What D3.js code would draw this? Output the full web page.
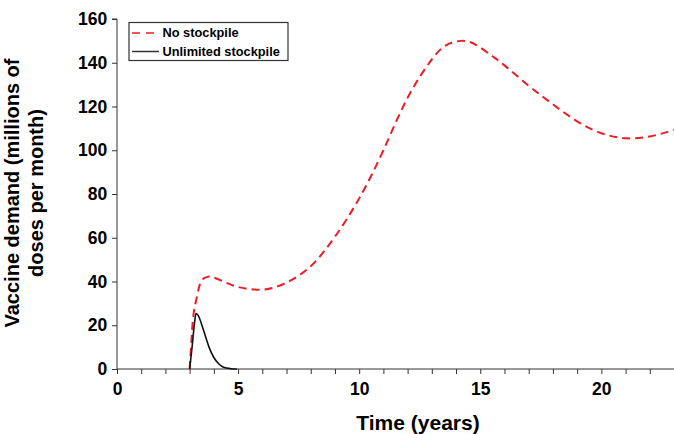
<!DOCTYPE html>
<html>
<head>
<meta charset="utf-8">
<style> body { margin: 0; background: #fff; } text { font-family: "Liberation Sans", Arial, sans-serif; font-weight: bold; } </style>
<script src="https://d3js.org/d3.v7.min.js"></script>
</head>
<body>
<div id="chart"></div>
<script>
var noStockT = [3.0, 3.08, 3.16, 3.3, 3.43, 3.6, 3.8, 4.0, 4.5, 5.0, 6.0, 7.0, 8.0, 9.0, 10, 11, 12, 13, 13.6, 14.2, 14.8, 15.5, 16, 17, 18, 19, 20, 21, 22, 23];
var noStockV = [0, 14, 25, 33, 39, 41.5, 42.3, 41.8, 39.5, 37.5, 36.3, 39.5, 47, 60.5, 78, 100, 124, 141.5, 148.1, 150, 148.3, 143, 138.8, 129.5, 121, 113.2, 107.8, 105.5, 106.3, 109.3];
var unlimT = [3.0, 3.1, 3.2, 3.26, 3.35, 3.57, 3.8, 3.98, 4.2, 4.4, 4.7, 4.95];
var unlimV = [0, 10, 21, 25.4, 24.5, 17.8, 10, 5.6, 2.4, 0.8, 0.15, 0];
var xTicks = d3.range(0, 24, 1);
var xLabels = [0, 5, 10, 15, 20];
var yTicks = [0, 20, 40, 60, 80, 100, 120, 140, 160];
var seriesNames = ["No stockpile", "Unlimited stockpile"];

var W = 674, H = 434;
var margin = { top: 19, right: 0, bottom: 65, left: 117 };
var width = W - margin.left - margin.right,
    height = H - margin.top - margin.bottom;

var svg = d3.select("#chart").append("svg")
    .attr("width", W)
    .attr("height", H);

var g = svg.append("g").attr("transform", `translate(${margin.left},${margin.top})`);

var x = d3.scaleLinear().domain([0, 23]).range([0, width]);
var y = d3.scaleLinear().domain([0, 160]).range([height, 0]);

// x axis
var xa = g.append("g")
    .attr("transform", `translate(0,${height})`)
    .call(d3.axisBottom(x).tickValues(xTicks).tickSize(5).tickFormat(d => xLabels.includes(d) ? d : ""));
xa.select(".domain").attr("stroke", "#333").attr("d", `M0,0H${width + 2}`);
xa.selectAll("line").attr("stroke", "#333");
xa.selectAll("text").attr("font-size", 17.5).attr("fill", "#000").attr("dy", "1.05em");

// y axis
var ya = g.append("g")
    .call(d3.axisLeft(y).tickValues(yTicks).tickSize(5));
ya.select(".domain").attr("stroke", "#333").attr("d", `M-5,0H0V${height}`);
ya.selectAll("line").attr("stroke", "#333");
ya.selectAll("text").attr("font-size", 17.5).attr("fill", "#000").attr("dx", "-0.1em");

var line = d3.line()
    .x(d => x(d[0]))
    .y(d => y(d[1]))
    .curve(d3.curveNatural);

g.append("path")
    .datum(noStockT.map((t, i) => [t, noStockV[i]]))
    .attr("fill", "none")
    .attr("stroke", "#ee1c24")
    .attr("stroke-width", 2)
    .attr("stroke-dasharray", "8,5")
    .attr("d", line);

g.append("path")
    .datum(unlimT.map((t, i) => [t, unlimV[i]]))
    .attr("fill", "none")
    .attr("stroke", "#111")
    .attr("stroke-width", 1.6)
    .attr("d", line.curve(d3.curveMonotoneX));

// axis titles
svg.append("text")
    .attr("x", 418).attr("y", 429.5)
    .attr("text-anchor", "middle")
    .attr("font-size", 21)
    .text("Time (years)");

var yt = svg.append("text")
    .attr("transform", "translate(0,193) rotate(-90)")
    .attr("text-anchor", "middle")
    .attr("font-size", 20);
yt.append("tspan").attr("x", 0).attr("y", 19).text("Vaccine demand (millions of");
yt.append("tspan").attr("x", 0).attr("y", 42.5).text("doses per month)");

// legend
var lg = svg.append("g").attr("transform", "translate(129,22.5)");
lg.append("rect").attr("width", 159).attr("height", 38)
    .attr("fill", "#fff").attr("stroke", "#333").attr("stroke-width", 1.2);
lg.append("line").attr("x1", 3).attr("x2", 30).attr("y1", 10.5).attr("y2", 10.5)
    .attr("stroke", "#ee1c24").attr("stroke-width", 1.5).attr("stroke-dasharray", "8,6");
lg.append("line").attr("x1", 3).attr("x2", 30).attr("y1", 29).attr("y2", 29)
    .attr("stroke", "#333").attr("stroke-width", 1.5);
lg.append("text").attr("x", 33.5).attr("y", 14.5).attr("font-size", 12.8).text(seriesNames[0]);
lg.append("text").attr("x", 33.5).attr("y", 33).attr("font-size", 12.8).text(seriesNames[1]);
</script>
</body>
</html>
